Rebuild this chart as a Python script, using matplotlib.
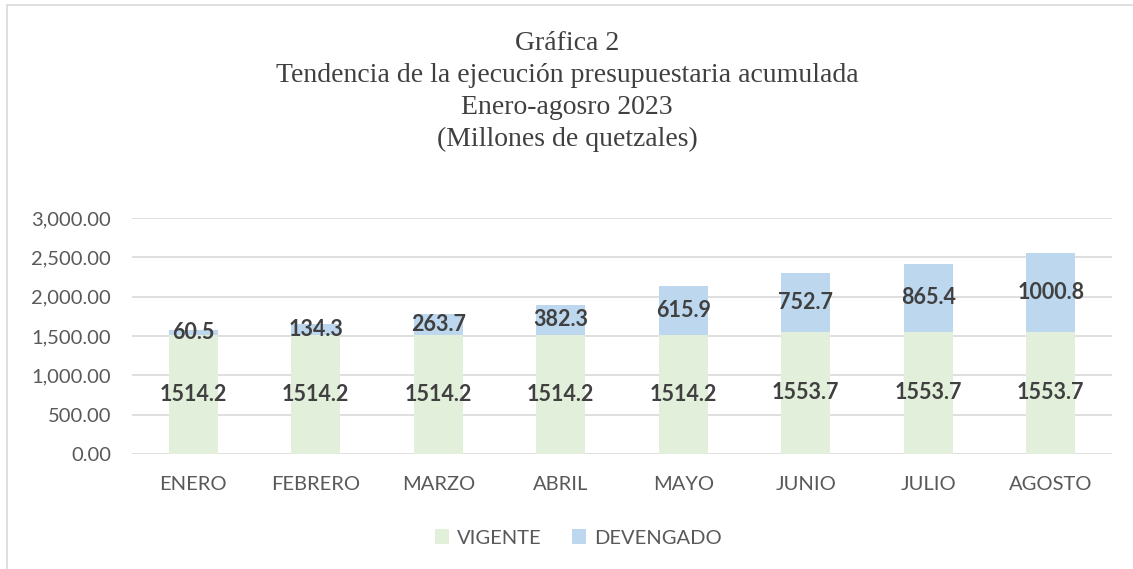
import matplotlib
matplotlib.use("Agg")
import matplotlib.pyplot as plt
from matplotlib.patches import Rectangle
from matplotlib.ticker import FuncFormatter
import numpy as np

MONTHS = ["ENERO", "FEBRERO", "MARZO", "ABRIL", "MAYO", "JUNIO", "JULIO", "AGOSTO"]
VIGENTE = [1514.2, 1514.2, 1514.2, 1514.2, 1514.2, 1553.7, 1553.7, 1553.7]
DEVENGADO = [60.5, 134.3, 263.7, 382.3, 615.9, 752.7, 865.4, 1000.8]
TITLE = ["Gráfica 2", "Tendencia de la ejecución presupuestaria acumulada",
         "Enero-agosro 2023", "(Millones de quetzales)"]

GREEN = "#E2EFDA"
BLUE = "#BDD7EE"
TEXT = "#595959"
LABEL = "#404040"
SANS = ["Lato", "DejaVu Sans"]

fig = plt.figure(figsize=(11.33, 5.69), dpi=100)
fig.patches.append(Rectangle((7 / 1133, -0.1), 1.2, 1.1 - 5 / 569, transform=fig.transFigure,
                             fill=False, edgecolor="#D9D9D9", linewidth=1.2))

ax = fig.add_axes([132 / 1133, (569 - 454) / 569, (1112 - 132) / 1133, (454 - 218) / 569])
x = np.arange(len(MONTHS))
ax.bar(x, VIGENTE, width=0.4, color=GREEN, label="VIGENTE", zorder=2)
ax.bar(x, DEVENGADO, width=0.4, bottom=VIGENTE, color=BLUE, label="DEVENGADO", zorder=2)

for i in range(len(MONTHS)):
    ax.text(x[i], VIGENTE[i] / 2, f"{VIGENTE[i]:.1f}", ha="center", va="center",
            fontsize=15.5, fontweight="bold", color=LABEL, family=SANS, zorder=3)
    ax.text(x[i], VIGENTE[i] + DEVENGADO[i] / 2, f"{DEVENGADO[i]:.1f}", ha="center", va="center",
            fontsize=15.5, fontweight="bold", color=LABEL, family=SANS, zorder=3)

ax.set_xlim(-0.5, len(MONTHS) - 0.5)
ax.set_ylim(0, 3000)
ax.set_yticks(np.arange(0, 3001, 500))
ax.yaxis.set_major_formatter(FuncFormatter(lambda v, p: f"{v:,.2f}"))
ax.set_xticks(x)
ax.set_xticklabels(MONTHS)
ax.grid(axis="y", color="#D9D9D9", linewidth=1.2, zorder=0)
ax.set_axisbelow(True)
for s in ax.spines.values():
    s.set_visible(False)
ax.tick_params(length=0, labelsize=14.5, colors=TEXT)
ax.tick_params(axis="x", pad=16)
ax.tick_params(axis="y", pad=15)
for lab in ax.get_xticklabels() + ax.get_yticklabels():
    lab.set_family(SANS)

for k, line in enumerate(TITLE):
    fig.text(567 / 1133, 1 - (43 + 32 * k) / 569, line, ha="center", va="center",
             fontsize=20, color=LABEL, family=["Liberation Serif", "DejaVu Serif"])

leg = fig.legend(loc="center", bbox_to_anchor=(578 / 1133, 1 - 538 / 569), ncol=2, frameon=False,
                 prop={"family": SANS, "size": 14.5}, handlelength=0.7, handleheight=0.7,
                 columnspacing=1.5, handletextpad=0.4)
for t in leg.get_texts():
    t.set_color(TEXT)

fig.savefig("out.png", dpi=100)
